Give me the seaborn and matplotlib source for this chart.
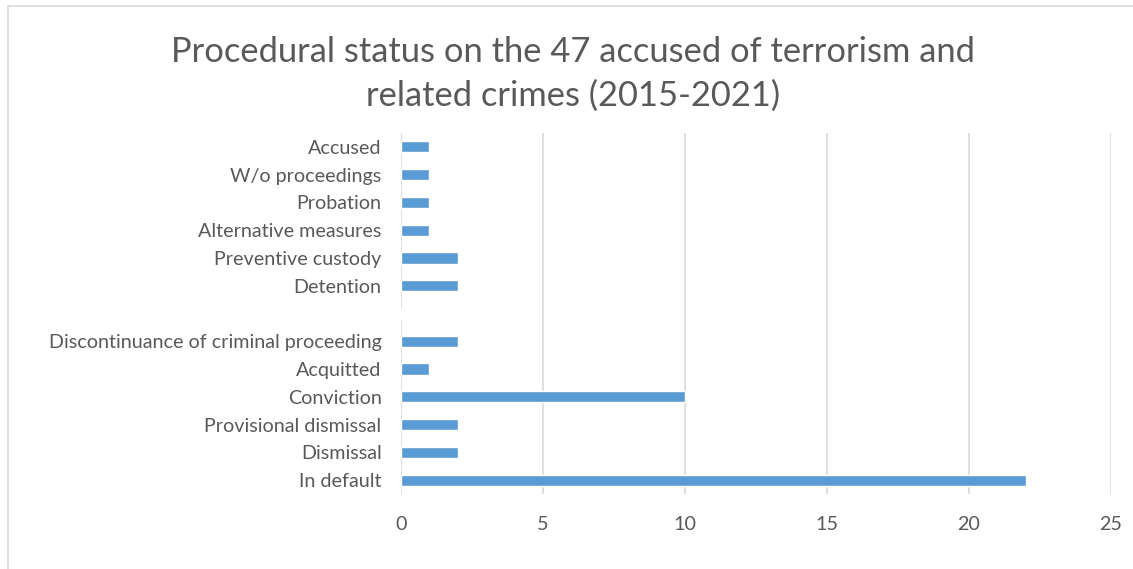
import matplotlib
matplotlib.use("Agg")
import matplotlib.pyplot as plt
import seaborn as sns
import pandas as pd
from matplotlib.patches import Rectangle

categories = ["Accused", "W/o proceedings", "Probation", "Alternative measures",
              "Preventive custody", "Detention", "",
              "Discontinuance of criminal proceeding", "Acquitted", "Conviction",
              "Provisional dismissal", "Dismissal", "In default"]
values = [1, 1, 1, 1, 2, 2, 0, 2, 1, 10, 2, 2, 22]
x_ticks = [0, 5, 10, 15, 20, 25]
title = "Procedural status on the 47 accused of terrorism and\nrelated crimes (2015-2021)"

sns.set_theme(style="white")
plt.rcParams['font.family'] = ['Lato', 'DejaVu Sans']

TXT = "#595959"
GRID = "#D9D9D9"
BAR = "#5B9BD5"

df = pd.DataFrame({"cat": categories, "val": values})

fig = plt.figure(figsize=(11.33, 5.69), dpi=100)
fig.patch.set_facecolor("white")
fig.patches.append(Rectangle((8/1133, -0.1), 1.2, (1 - 6/569) + 0.1,
                             transform=fig.transFigure, fill=False,
                             edgecolor=GRID, linewidth=1.2, zorder=0))

ax = fig.add_axes([401/1133, 1 - 494/569, 710/1133, 361/569])
sns.barplot(data=df, y="cat", x="val", order=categories, orient="h",
            color=BAR, saturation=1, width=0.4, ax=ax)

ax.set_xlim(0, 25)
ax.set_xticks(x_ticks)
ax.set_xticklabels([str(t) for t in x_ticks])
ax.set_ylim(len(categories) - 0.5, -0.5)
ax.grid(axis="x", color=GRID, linewidth=1.2)
ax.set_axisbelow(True)
for s in ax.spines.values():
    s.set_visible(False)
ax.set_xlabel("")
ax.set_ylabel("")
ax.tick_params(axis="y", length=0, pad=14, labelsize=14.2, labelcolor=TXT)
ax.tick_params(axis="x", length=0, pad=16, labelsize=14.2, labelcolor=TXT)

fig.text(573/1133, 1 - 74/569, title, ha="center", va="center",
         fontsize=24.8, color=TXT, linespacing=1.45)

fig.savefig("out.png", dpi=100)
